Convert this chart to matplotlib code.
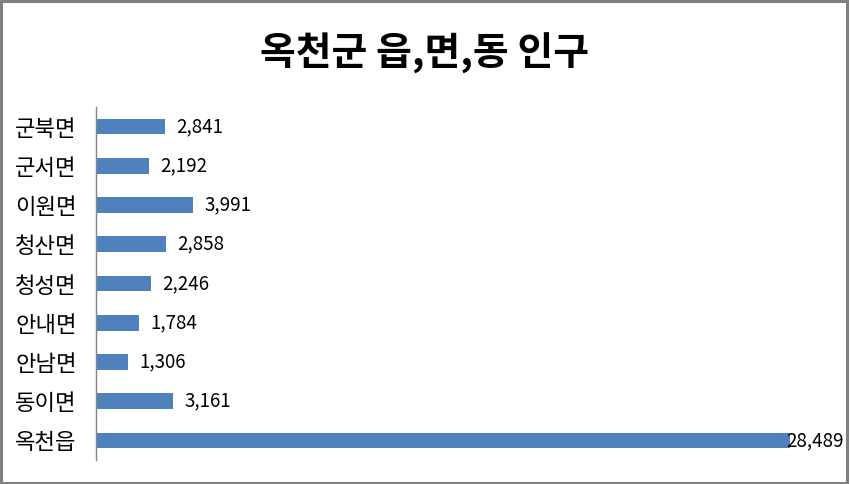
import matplotlib
matplotlib.use("Agg")
import matplotlib.pyplot as plt
from matplotlib.patches import Rectangle

categories = ["군북면", "군서면", "이원면", "청산면", "청성면", "안내면", "안남면", "동이면", "옥천읍"]
values = [2841, 2192, 3991, 2858, 2246, 1784, 1306, 3161, 28489]
title = "옥천군 읍,면,동 인구"

plt.rcParams['font.family'] = ['Noto Sans CJK KR', 'DejaVu Sans']

W, H = 850, 484
fig = plt.figure(figsize=(W / 100, H / 100), dpi=100)
ax = fig.add_axes([96 / W, 1 - 460 / H, (827 - 96) / W, (460 - 107) / H])

ypos = list(range(len(categories)))[::-1]
ax.barh(ypos, values, height=0.4, color="#4F81BD")
ax.set_ylim(-0.5, len(categories) - 0.5)
ax.set_xlim(0, 30000)
ax.set_yticks(ypos)
ax.set_yticklabels(categories, fontsize=16)
ax.tick_params(axis='y', length=0, pad=14)
ax.set_xticks([])
for s in ["top", "right", "bottom"]:
    ax.spines[s].set_visible(False)
ax.spines["left"].set_color("#868686")
ax.spines["left"].set_linewidth(1.0)

vmax = max(values)
for y, v in zip(ypos, values):
    if v == vmax:
        ax.annotate(f"{v:,}", xy=(v, y), xytext=(-3, 0), textcoords="offset points",
                    ha="left", va="center", fontsize=13.5)
    else:
        ax.annotate(f"{v:,}", xy=(v, y), xytext=(8, 0), textcoords="offset points",
                    ha="left", va="center", fontsize=13.5)

fig.text(424 / W, 1 - 53 / H, title, ha="center", va="center", fontsize=28, fontweight="bold")

fig.patches.append(Rectangle((0.001, 0.002), 0.996, 0.995, transform=fig.transFigure,
                             fill=False, edgecolor="#808080", linewidth=2.2))

fig.savefig("out.png", dpi=100)
